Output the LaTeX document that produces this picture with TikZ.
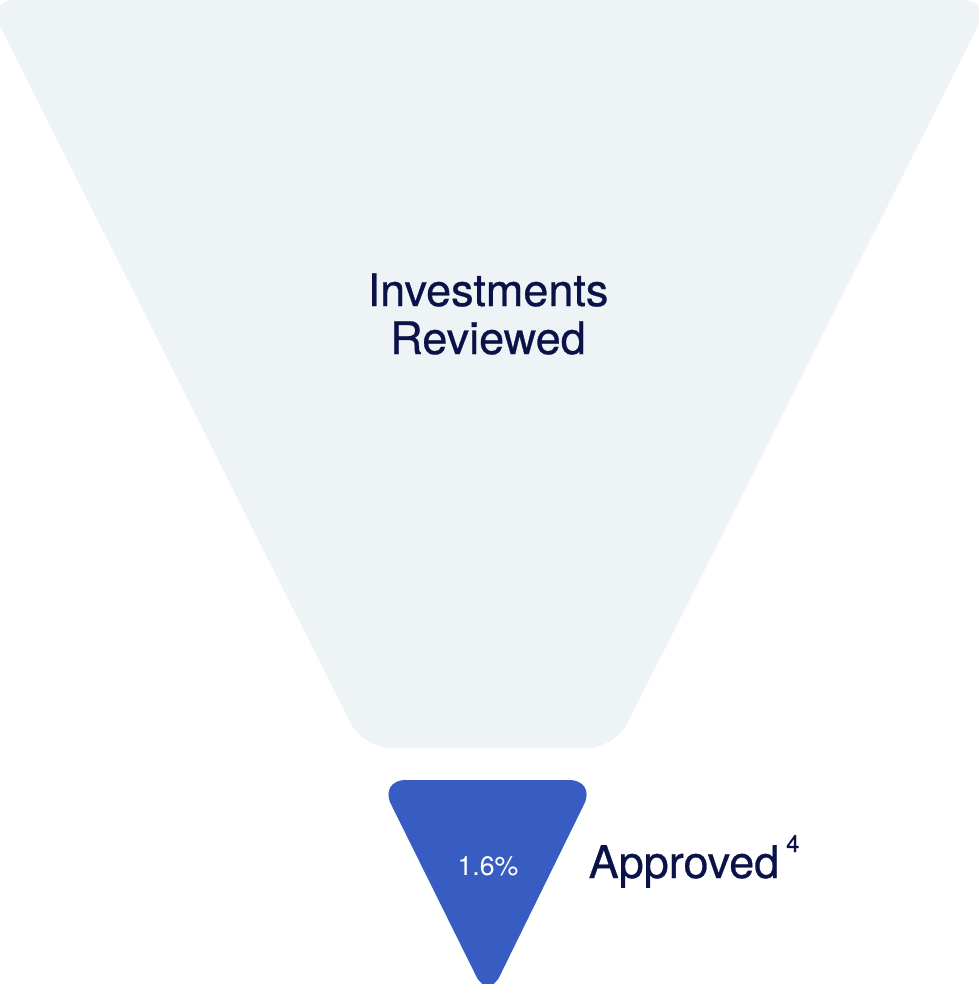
\documentclass[tikz,border=0pt]{standalone}
\usepackage{fontspec}
\setmainfont{TeX Gyre Heros}
\newfontfamily\heromedium[FakeBold=0.6]{TeX Gyre Heros}
\definecolor{huise}{rgb}{0.933,0.953,0.965}
\definecolor{lanse}{rgb}{0.22,0.365,0.76}
\definecolor{shenlan}{rgb}{0.04,0.07,0.28}
\tikzset{ %漏斗样式
    big funnel/.style={fill=huise, rounded corners=0.28cm},
    small funnel/.style={fill=lanse, rounded corners=0.27cm},
    stage text/.style={color=shenlan, font=\heromedium\fontsize{12.8}{13.66}\selectfont, inner sep=0pt},
    rate text/.style={color=white, font=\fontsize{7.6}{9}\selectfont, inner sep=0pt},
}

\begin{document}
\begin{tikzpicture}
			\useasboundingbox (0,0) rectangle (9.78,-9.84);
			\fill[big funnel] (-0.13,0) -- (9.91,0) -- (6.15,-7.48) -- (3.63,-7.48) -- cycle;
			\fill[small funnel] (3.79,-7.80) -- (5.96,-7.80) -- (4.88,-10.0) -- cycle;
			\node[stage text, align=center] (reviewed) at (4.88,-3.14) {Investments\\Reviewed};
			\node[rate text, anchor=base] (rate) at (4.88,-8.75) {1.6\%};
			\node[stage text, anchor=base west] (approved) at (5.88,-8.78) {Approved\hspace{0.07cm}\raisebox{0.26cm}{\fontsize{6.8}{8}\selectfont 4}};
		\end{tikzpicture}
\end{document}
